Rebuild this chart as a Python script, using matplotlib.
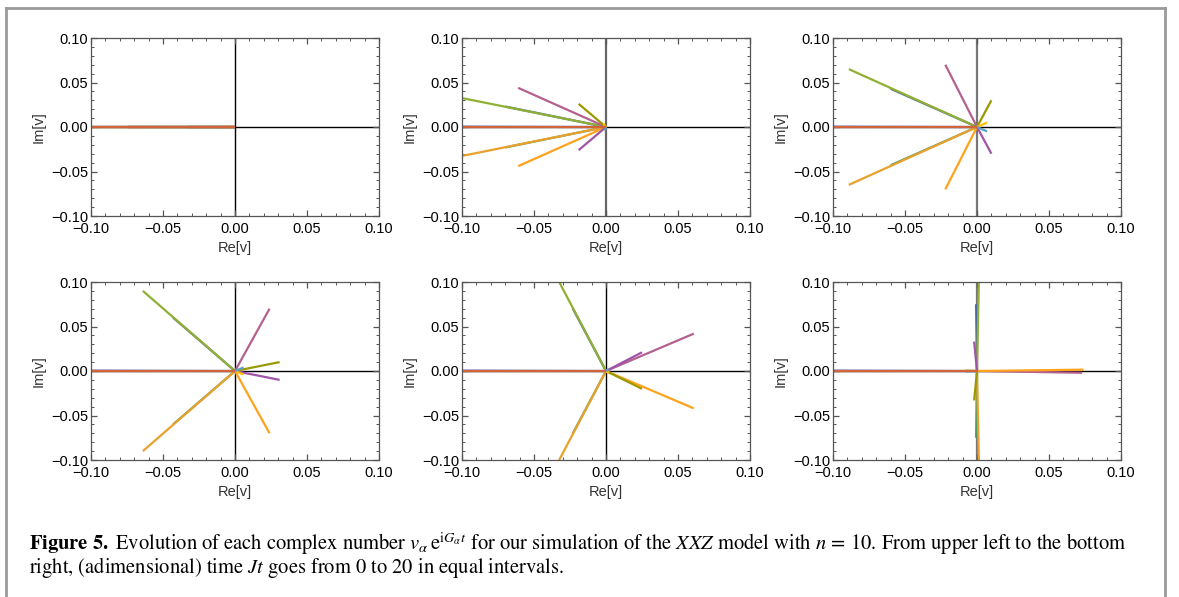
import matplotlib
matplotlib.use("Agg")
import matplotlib.pyplot as plt
from matplotlib.lines import Line2D
from matplotlib.ticker import FixedLocator, MultipleLocator, FixedFormatter

plt.rcParams['font.family'] = ['Liberation Sans', 'DejaVu Sans']
plt.rcParams['mathtext.fontset'] = 'stix'

# ---------------- data ----------------
SERIES = ["blue_hidden", "green", "green_hidden", "orange_big", "magenta", "orange",
          "olive", "purple", "gold", "lightblue", "axis_blue", "axis_red"]
COLORS = ["#4A67A8", "#8FB032", "#4E9A66", "#E9A12C", "#B5608F", "#FFA21C",
          "#9A9A00", "#A055A8", "#FFBF00", "#5D9EC7", "#5B5FA6", "#D0643A"]

# endpoints (Re, Im) of v_alpha e^{i G_alpha t}; Jt = 0, 4, 8, 12, 16, 20
RE_T0 = [-0.074, -0.110, -0.074, -0.110, -0.075, -0.075, -0.032, -0.032, -0.006, -0.006, -0.30, -0.30]
IM_T0 = [0.0, 0.0, 0.0, 0.0, 0.0, 0.0, 0.0, 0.0, 0.0, 0.0, 0.0004, -0.0003]

RE_T4 = [-0.070, -0.1046, -0.070, -0.1046, -0.061, -0.061, -0.019, -0.019, -0.002, -0.001, -0.30, -0.30]
IM_T4 = [0.023, 0.034, -0.023, -0.034, 0.044, -0.044, 0.026, -0.026, 0.004, -0.004, 0.0012, -0.0003]

RE_T8 = [-0.060, -0.089, -0.060, -0.089, -0.022, -0.022, 0.010, 0.010, 0.007, 0.007, -0.30, -0.30]
IM_T8 = [0.043, 0.065, -0.043, -0.065, 0.070, -0.070, 0.030, -0.030, 0.005, -0.005, 0.0012, -0.0003]

RE_T12 = [-0.043, -0.064, -0.043, -0.064, 0.024, 0.024, 0.031, 0.031, 0.006, 0.006, -0.30, -0.30]
IM_T12 = [0.060, 0.090, -0.060, -0.090, 0.070, -0.070, 0.010, -0.010, -0.004, 0.004, 0.0013, -0.0004]

RE_T16 = [-0.023, -0.034, -0.023, -0.034, 0.061, 0.061, 0.025, 0.025, 0.002, 0.002, -0.30, -0.30]
IM_T16 = [0.070, 0.1046, -0.070, -0.1046, 0.042, -0.042, -0.020, 0.021, -0.002, 0.002, 0.0013, -0.0004]

RE_T20 = [-0.0006, 0.0014, -0.0006, 0.0014, 0.073, 0.074, -0.002, -0.002, -0.008, -0.008, -0.30, -0.30]
IM_T20 = [0.075, 0.110, -0.075, -0.110, -0.002, 0.0015, -0.033, 0.033, 0.0005, -0.0005, 0.0013, -0.0004]

PANELS_RE = [RE_T0, RE_T4, RE_T8, RE_T12, RE_T16, RE_T20]
PANELS_IM = [IM_T0, IM_T4, IM_T8, IM_T12, IM_T16, IM_T20]
VAXIS_COLOR = ["#000000", "#666666", "#777777", "#000000", "#000000", "#777777"]

TICKS = [-0.10, -0.05, 0.00, 0.05, 0.10]
TICK_LABELS = ["\u22120.10", "\u22120.05", "0.00", "0.05", "0.10"]
XLABEL = "Re[v]"
YLABEL = "Im[v]"

# ---------------- figure ----------------
W, H = 1179, 597
fig = plt.figure(figsize=(W / 100, H / 100), dpi=100)

# outer gray frame
fr = dict(color="#9a9a9a", lw=2.0, transform=fig.transFigure, clip_on=False)
fig.add_artist(Line2D([6 / W, 6 / W], [1 - 8 / H, 0], **fr))
fig.add_artist(Line2D([6 / W, 1165 / W], [1 - 8 / H, 1 - 8 / H], **fr))
fig.add_artist(Line2D([1165 / W, 1165 / W], [1 - 8 / H, 0], **fr))

lefts = [91, 462, 833]
tops = [38, 282]
aw, ah = 288, 178

for k in range(6):
    r, c = divmod(k, 3)
    x0 = lefts[c]
    y0 = tops[r]
    ax = fig.add_axes([x0 / W, 1 - (y0 + ah) / H, aw / W, ah / H])
    ax.set_xlim(-0.1, 0.1)
    ax.set_ylim(-0.1, 0.1)
    ax.axhline(0, color="black", lw=1.0, zorder=1)
    ax.axvline(0, color=VAXIS_COLOR[k], lw=1.0 if VAXIS_COLOR[k] == "#000000" else 1.6, zorder=1)
    for re, im, col in zip(PANELS_RE[k], PANELS_IM[k], COLORS):
        ax.plot([0, re], [0, im], color=col, lw=1.6, solid_capstyle="butt", zorder=2)
    ax.xaxis.set_major_locator(FixedLocator(TICKS))
    ax.yaxis.set_major_locator(FixedLocator(TICKS))
    ax.xaxis.set_major_formatter(FixedFormatter(TICK_LABELS))
    ax.yaxis.set_major_formatter(FixedFormatter(TICK_LABELS))
    ax.xaxis.set_minor_locator(MultipleLocator(0.01))
    ax.yaxis.set_minor_locator(MultipleLocator(0.01))
    ax.tick_params(which="both", direction="in", top=True, right=True,
                   color="#555555", labelsize=10.5)
    ax.tick_params(axis="x", pad=4)
    ax.tick_params(axis="y", pad=2)
    ax.tick_params(which="major", length=4.5, width=0.9)
    ax.tick_params(which="minor", length=2.5, width=0.7)
    for s in ax.spines.values():
        s.set_color("#555555")
        s.set_linewidth(0.9)
    ax.set_xlabel(XLABEL, fontsize=10.5, labelpad=4, color="#333333")
    ax.set_ylabel(YLABEL, fontsize=10.5, labelpad=4, color="#333333")

cap1 = (r"$\mathbf{Figure\ 5.}$ Evolution of each complex number $v_{\alpha}\,\mathrm{e}^{\mathrm{i}G_{\alpha}t}$"
        r" for our simulation of the $XXZ$ model with $n\,=\,10$. From upper left to the bottom")
cap2 = r"right, (adimensional) time $Jt$ goes from 0 to 20 in equal intervals."
fig.text(29 / W, 1 - 550 / H, cap1, fontsize=14.8, family="STIXGeneral", va="baseline", ha="left")
fig.text(29 / W, 1 - 573 / H, cap2, fontsize=14.8, family="STIXGeneral", va="baseline", ha="left")

fig.savefig("out.png", dpi=100)
